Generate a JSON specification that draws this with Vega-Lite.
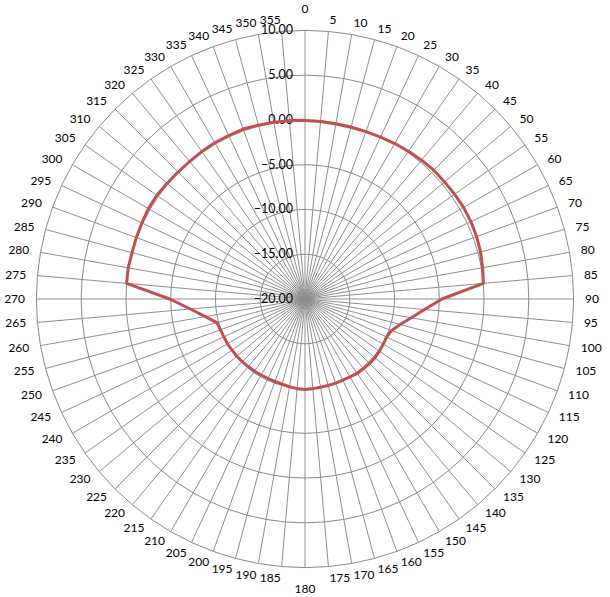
{
  "$schema": "https://vega.github.io/schema/vega-lite/v6.json",
  "width": 590,
  "height": 590,
  "autosize": {"type": "none"},
  "padding": {"left": 10, "top": 4, "right": 10, "bottom": 3},
  "background": "white",
  "config": {"view": {"stroke": null}, "font": "Lato"},
  "datasets": {
    "pattern": [
      {"angle": 0, "value": -0.05}, {"angle": 5, "value": -0.1}, {"angle": 10, "value": -0.15}, {"angle": 15, "value": -0.15},
      {"angle": 20, "value": -0.1}, {"angle": 25, "value": -0.05}, {"angle": 30, "value": 0.05}, {"angle": 35, "value": 0.15},
      {"angle": 40, "value": 0.25}, {"angle": 45, "value": 0.35}, {"angle": 50, "value": 0.35}, {"angle": 55, "value": 0.4},
      {"angle": 60, "value": 0.45}, {"angle": 65, "value": 0.45}, {"angle": 70, "value": 0.4}, {"angle": 75, "value": 0.3},
      {"angle": 80, "value": 0.15}, {"angle": 85, "value": 0.0}, {"angle": 90, "value": -4.7}, {"angle": 95, "value": -6.6},
      {"angle": 100, "value": -7.95}, {"angle": 105, "value": -9.0}, {"angle": 110, "value": -9.7}, {"angle": 115, "value": -9.95},
      {"angle": 120, "value": -9.9}, {"angle": 125, "value": -9.85}, {"angle": 130, "value": -9.8}, {"angle": 135, "value": -9.8},
      {"angle": 140, "value": -9.85}, {"angle": 145, "value": -9.85}, {"angle": 150, "value": -9.95}, {"angle": 155, "value": -10.0},
      {"angle": 160, "value": -10.0}, {"angle": 165, "value": -10.0}, {"angle": 170, "value": -10.0}, {"angle": 175, "value": -9.95},
      {"angle": 180, "value": -9.9}, {"angle": 185, "value": -9.95}, {"angle": 190, "value": -10.05}, {"angle": 195, "value": -10.15},
      {"angle": 200, "value": -10.2}, {"angle": 205, "value": -10.2}, {"angle": 210, "value": -10.2}, {"angle": 215, "value": -10.15},
      {"angle": 220, "value": -10.15}, {"angle": 225, "value": -10.1}, {"angle": 230, "value": -10.05}, {"angle": 235, "value": -10.05},
      {"angle": 240, "value": -10.0}, {"angle": 245, "value": -10.0}, {"angle": 250, "value": -9.95}, {"angle": 255, "value": -9.8},
      {"angle": 260, "value": -8.7}, {"angle": 265, "value": -7.15}, {"angle": 270, "value": -4.9}, {"angle": 275, "value": 0.0},
      {"angle": 280, "value": 0.05}, {"angle": 285, "value": 0.0}, {"angle": 290, "value": 0.05}, {"angle": 295, "value": 0.1},
      {"angle": 300, "value": 0.2}, {"angle": 305, "value": 0.2}, {"angle": 310, "value": 0.1}, {"angle": 315, "value": 0.05},
      {"angle": 320, "value": 0.05}, {"angle": 325, "value": 0.1}, {"angle": 330, "value": 0.15}, {"angle": 335, "value": 0.15},
      {"angle": 340, "value": 0.2}, {"angle": 345, "value": 0.1}, {"angle": 350, "value": 0.05}, {"angle": 355, "value": 0.0}
    ],
    "rings": [
      {"ring": -20}, {"ring": -15}, {"ring": -10}, {"ring": -5}, {"ring": 0}, {"ring": 5}, {"ring": 10}
    ]
  },
  "layer": [
    {
      "data": {"name": "pattern"},
      "transform": [
        {"calculate": "5", "as": "g5"}, {"calculate": "10", "as": "g10"}, {"calculate": "15", "as": "g15"},
        {"calculate": "20", "as": "g20"}, {"calculate": "25", "as": "g25"}, {"calculate": "30", "as": "g30"},
        {"fold": ["g5", "g10", "g15", "g20", "g25", "g30"], "as": ["ringKey", "rr"]},
        {"calculate": "datum.rr * sin(datum.angle * PI / 180)", "as": "gx"},
        {"calculate": "datum.rr * cos(datum.angle * PI / 180)", "as": "gy"}
      ],
      "mark": {"type": "line", "interpolate": "linear-closed", "color": "#8a8a8a", "strokeWidth": 1},
      "encoding": {
        "x": {"field": "gx", "type": "quantitative", "scale": {"domain": [-32.95, 32.95]}, "axis": null},
        "y": {"field": "gy", "type": "quantitative", "scale": {"domain": [-32.95, 32.95]}, "axis": null},
        "detail": {"field": "ringKey", "type": "nominal"},
        "order": {"field": "angle", "type": "quantitative"}
      }
    },
    {
      "data": {"name": "pattern"},
      "transform": [
        {"calculate": "0", "as": "cx"},
        {"calculate": "30 * sin(datum.angle * PI / 180)", "as": "sx"},
        {"calculate": "30 * cos(datum.angle * PI / 180)", "as": "sy"}
      ],
      "mark": {"type": "rule", "strokeWidth": 1, "color": "#8f8f8f"},
      "encoding": {
        "x": {"field": "cx", "type": "quantitative", "scale": {"domain": [-32.95, 32.95]}, "axis": null},
        "y": {"field": "cx", "type": "quantitative", "scale": {"domain": [-32.95, 32.95]}, "axis": null},
        "x2": {"field": "sx"},
        "y2": {"field": "sy"}
      }
    },
    {
      "data": {"name": "rings"},
      "transform": [{"calculate": "datum.ring + 20", "as": "rr"}, {"calculate": "0", "as": "cx"}],
      "mark": {"type": "text", "align": "right", "baseline": "middle", "dx": -12, "fontSize": 12.5, "color": "#000000"},
      "encoding": {
        "x": {"field": "cx", "type": "quantitative", "scale": {"domain": [-32.95, 32.95]}, "axis": null},
        "y": {"field": "rr", "type": "quantitative", "scale": {"domain": [-32.95, 32.95]}, "axis": null},
        "text": {"field": "ring", "type": "quantitative", "format": ".2f"}
      }
    },
    {
      "data": {"name": "pattern"},
      "transform": [
        {"calculate": "(datum.value + 20) * sin(datum.angle * PI / 180)", "as": "px"},
        {"calculate": "(datum.value + 20) * cos(datum.angle * PI / 180)", "as": "py"}
      ],
      "mark": {"type": "line", "interpolate": "linear-closed", "color": "#C0504D", "strokeWidth": 3, "strokeJoin": "round"},
      "encoding": {
        "x": {"field": "px", "type": "quantitative", "scale": {"domain": [-32.95, 32.95]}, "axis": null},
        "y": {"field": "py", "type": "quantitative", "scale": {"domain": [-32.95, 32.95]}, "axis": null},
        "order": {"field": "angle", "type": "quantitative"}
      }
    },
    {
      "data": {"name": "pattern"},
      "transform": [
        {"filter": "datum.angle > 0 && datum.angle < 180"},
        {"calculate": "31.27 * sin(datum.angle * PI / 180)", "as": "lx"},
        {"calculate": "31.27 * cos(datum.angle * PI / 180)", "as": "ly"}
      ],
      "mark": {"type": "text", "align": "left", "baseline": "middle", "fontSize": 12, "color": "#000000"},
      "encoding": {
        "x": {"field": "lx", "type": "quantitative", "scale": {"domain": [-32.95, 32.95]}, "axis": null},
        "y": {"field": "ly", "type": "quantitative", "scale": {"domain": [-32.95, 32.95]}, "axis": null},
        "text": {"field": "angle", "type": "quantitative"}
      }
    },
    {
      "data": {"name": "pattern"},
      "transform": [
        {"filter": "datum.angle > 180"},
        {"calculate": "31.27 * sin(datum.angle * PI / 180)", "as": "lx"},
        {"calculate": "31.27 * cos(datum.angle * PI / 180)", "as": "ly"}
      ],
      "mark": {"type": "text", "align": "right", "baseline": "middle", "fontSize": 12, "color": "#000000"},
      "encoding": {
        "x": {"field": "lx", "type": "quantitative", "scale": {"domain": [-32.95, 32.95]}, "axis": null},
        "y": {"field": "ly", "type": "quantitative", "scale": {"domain": [-32.95, 32.95]}, "axis": null},
        "text": {"field": "angle", "type": "quantitative"}
      }
    },
    {
      "data": {"name": "pattern"},
      "transform": [
        {"filter": "datum.angle === 0 || datum.angle === 180"},
        {"calculate": "32.35 * sin(datum.angle * PI / 180)", "as": "lx"},
        {"calculate": "32.35 * cos(datum.angle * PI / 180)", "as": "ly"}
      ],
      "mark": {"type": "text", "align": "center", "baseline": "middle", "fontSize": 12, "color": "#000000"},
      "encoding": {
        "x": {"field": "lx", "type": "quantitative", "scale": {"domain": [-32.95, 32.95]}, "axis": null},
        "y": {"field": "ly", "type": "quantitative", "scale": {"domain": [-32.95, 32.95]}, "axis": null},
        "text": {"field": "angle", "type": "quantitative"}
      }
    }
  ]
}
